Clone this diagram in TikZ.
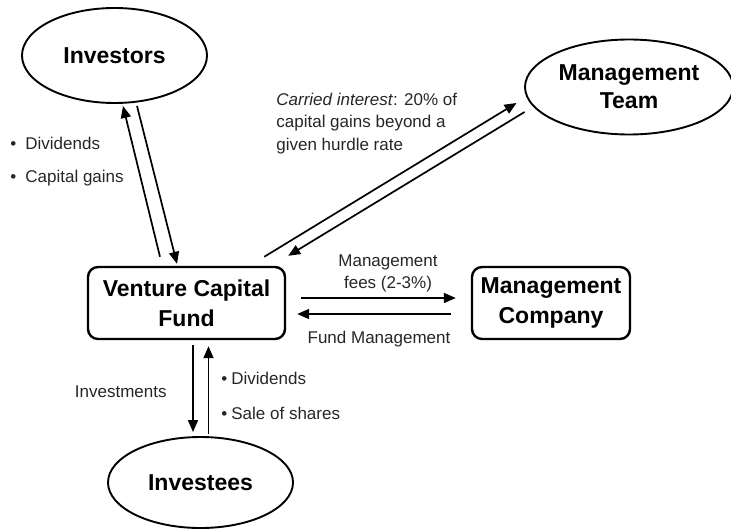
\documentclass[tikz,border=0pt]{standalone}
\usepackage{fontspec}
\setmainfont{Liberation Sans}
\usetikzlibrary{shapes.geometric,arrows.meta,calc}

\begin{document}
\begin{tikzpicture}[
	x=0.5pt,y=-0.5pt,
	party/.style={ellipse,draw,line width=0.95pt,minimum width=92.5pt,minimum height=47.5pt,inner sep=0pt,align=center,font=\bfseries\fontsize{11.5}{14}\selectfont},
	unit/.style={rectangle,rounded corners=5pt,draw,line width=1.2pt,minimum height=36pt,inner sep=0pt,align=center,font=\bfseries\fontsize{11.5}{15}\selectfont},
	flow/.style={line width=0.85pt,-{Triangle[length=6pt,width=5pt]}},
	note/.style={inner sep=0pt,text=black!85,font=\fontsize{8.5}{11}\selectfont}
	]
	\useasboundingbox (0,0) rectangle (731,529);

	% parties and the fund
	\node[party] (inv) at (114.5,55.5) {Investors};
	\node[party,minimum width=104pt] (team) at (629,87) {Management\\Team};
	\node[unit,minimum width=98.5pt] (vc) at (186.5,303) {Venture Capital\\Fund};
	\node[unit,minimum width=79pt] (mc) at (551,303) {Management\\Company};
	\node[party,minimum height=45.5pt] (ivs) at (200.5,482.5) {Investees};

	% flows
	\draw[flow] ($(vc.north)+(-26.5,-9)$) -- ($(inv.south)+(8.5,2)$);
	\draw[flow] ($(inv.south)+(22.5,2)$) -- ($(vc.north)+(-9.5,-2)$);
	\draw[flow] ($(vc.north east)+(-22,-9)$) -- ($(team.west)+(-7.5,16)$);
	\draw[flow] ($(team.west)+(0.5,25)$) -- ($(vc.north east)+(2,-10)$);
	\draw[flow] ($(vc.east)+(15,-5)$) -- ($(mc.west)+(-15,-5)$);
	\draw[flow] ($(mc.west)+(-20,11)$) -- ($(vc.east)+(11,11)$);
	\draw[flow] ($(vc.south)+(6.5,5)$) -- ($(ivs.north)+(-7.5,-4)$);
	\draw[flow] ($(ivs.north)+(8,-2)$) -- ($(vc.south)+(22,6)$);

	% labels
	\foreach \y/\t [count=\i] in {149/Dividends,183/Capital gains}
		\node[note,anchor=base west] (paid\i) at (10,\y) {\makebox[7.5pt][l]{\textbullet}\t};
	\node[note,anchor=base west] (carry1) at (276,106) {\textit{Carried interest}: 20\% of};
	\node[note,anchor=base west] (carry2) at (276,128) {capital gains beyond a};
	\node[note,anchor=base west] (carry3) at (276,150) {given hurdle rate};
	\node[note,anchor=base] (fee1) at (388,266) {Management};
	\node[note,anchor=base] (fee2) at (388,288) {fees (2-3\%)};
	\node[note,anchor=base] (service) at (379,343) {Fund Management};
	\node[note,anchor=base east] (invest) at (167,397) {Investments};
	\foreach \y/\t [count=\i] in {384/Dividends,419/Sale of shares}
		\node[note,anchor=base west] (back\i) at (221,\y) {\makebox[5pt][l]{\textbullet}\t};
\end{tikzpicture}
\end{document}
